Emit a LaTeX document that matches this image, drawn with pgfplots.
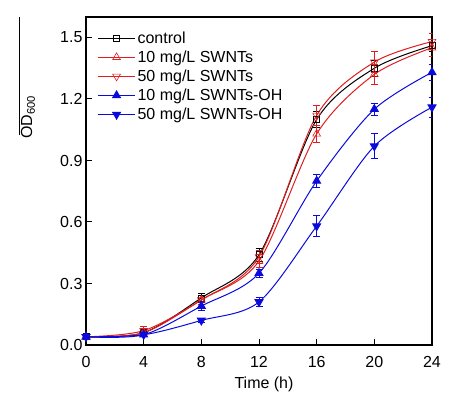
\documentclass[border=0pt]{standalone}
\usepackage{pgfplots}
\pgfplotsset{compat=1.18}
\usepackage{fontspec}
\setmainfont{Liberation Sans}
\definecolor{cred}{RGB}{225,30,30}
\definecolor{cblue}{RGB}{10,10,220}
\newcommand{\bigf}{\fontsize{16}{18}\selectfont}
\begin{document}
\begin{tikzpicture}
\useasboundingbox (-86pt,-53pt) rectangle (372pt,345pt);
\begin{axis}[
  at={(0pt,0pt)}, anchor=south west,
  scale only axis, width=346pt, height=328pt,
  xmin=0, xmax=24, ymin=0, ymax=1.6,
  xtick={0,4,8,12,16,20,24},
  ytick={0,0.3,0.6,0.9,1.2,1.5},
  yticklabel style={/pgf/number format/.cd,fixed,fixed zerofill,precision=1},
  /pgf/number format/assume math mode=true,
  xtick pos=bottom, ytick pos=left,
  tick align=inside, major tick length=6pt,
  axis line style={line width=1.2pt},
  major tick style={line width=1pt, black},
  font=\bigf,
  tick label style={font=\bigf},
  xticklabel style={yshift=-8pt},
  xlabel={Time (h)},
  xlabel style={font=\bigf, at={(axis description cs:0.5,0)}, anchor=north, yshift=-28pt, xshift=5pt},
  legend style={at={(0.03,0.962)}, anchor=north west, draw=none, fill=none,
    font=\bigf, row sep=4pt, inner sep=1pt, nodes={inner ysep=1pt}},
  legend cell align=left,
  legend image code/.code={
    \draw[mark repeat=2,mark phase=2] plot coordinates {(0cm,0cm) (0.65cm,0cm) (1.3cm,0cm)};},
  every axis plot/.append style={line width=1pt, smooth},
  error bars/error bar style={line width=0.8pt},
  error bars/error mark options={rotate=90, mark size=3.5pt, line width=0.8pt},
]
% control
\addplot[black, mark=square, mark size=3pt, mark options={solid, fill=white, line width=0.6pt},
  error bars/.cd, y dir=both, y explicit]
  coordinates {(0,0.04) +- (0,0.01) (4,0.06) +- (0,0.01) (8,0.23) +- (0,0.02) (12,0.44) +- (0,0.03) (16,1.10) +- (0,0.04) (20,1.35) +- (0,0.04) (24,1.46) +- (0,0.03)};
\addlegendentry{control}
% 10 mg/L SWNTs
\addplot[cred, mark=triangle, mark size=4.5pt, mark options={solid, fill=white, line width=0.6pt},
  error bars/.cd, y dir=both, y explicit]
  coordinates {(0,0.04) +- (0,0.01) (4,0.06) +- (0,0.02) (8,0.22) +- (0,0.02) (12,0.41) +- (0,0.03) (16,1.03) +- (0,0.04) (20,1.32) +- (0,0.05) (24,1.45) +- (0,0.04)};
\addlegendentry{10 mg/L SWNTs}
% 50 mg/L SWNTs
\addplot[cred, mark=triangle, mark size=4.5pt, mark options={solid, fill=white, rotate=180, line width=0.6pt},
  error bars/.cd, y dir=both, y explicit]
  coordinates {(0,0.04) +- (0,0.01) (4,0.07) +- (0,0.02) (8,0.22) +- (0,0.02) (12,0.43) +- (0,0.03) (16,1.12) +- (0,0.05) (20,1.38) +- (0,0.05) (24,1.48) +- (0,0.04)};
\addlegendentry{50 mg/L SWNTs}
% 10 mg/L SWNTs-OH
\addplot[cblue, mark=triangle*, mark size=4.5pt, mark options={solid, fill=cblue},
  error bars/.cd, y dir=both, y explicit]
  coordinates {(0,0.04) +- (0,0.01) (4,0.05) +- (0,0.01) (8,0.19) +- (0,0.02) (12,0.35) +- (0,0.02) (16,0.80) +- (0,0.03) (20,1.15) +- (0,0.03) (24,1.33) +- (0,0.04)};
\addlegendentry{10 mg/L SWNTs-OH}
% 50 mg/L SWNTs-OH
\addplot[cblue, mark=triangle*, mark size=4.5pt, mark options={solid, fill=cblue, rotate=180},
  error bars/.cd, y dir=both, y explicit]
  coordinates {(0,0.04) +- (0,0.01) (4,0.05) +- (0,0.01) (8,0.12) +- (0,0.01) (12,0.21) +- (0,0.02) (16,0.58) +- (0,0.05) (20,0.97) +- (0,0.06) (24,1.16) +- (0,0.05)};
\addlegendentry{50 mg/L SWNTs-OH}
\end{axis}
\node[rotate=90, anchor=center, font=\bigf] at (-58pt,228pt) {OD$_{\mathrm{600}}$};
\draw[line width=0.8pt] (-67pt,210pt) -- (-67pt,328pt);
\end{tikzpicture}
\end{document}
